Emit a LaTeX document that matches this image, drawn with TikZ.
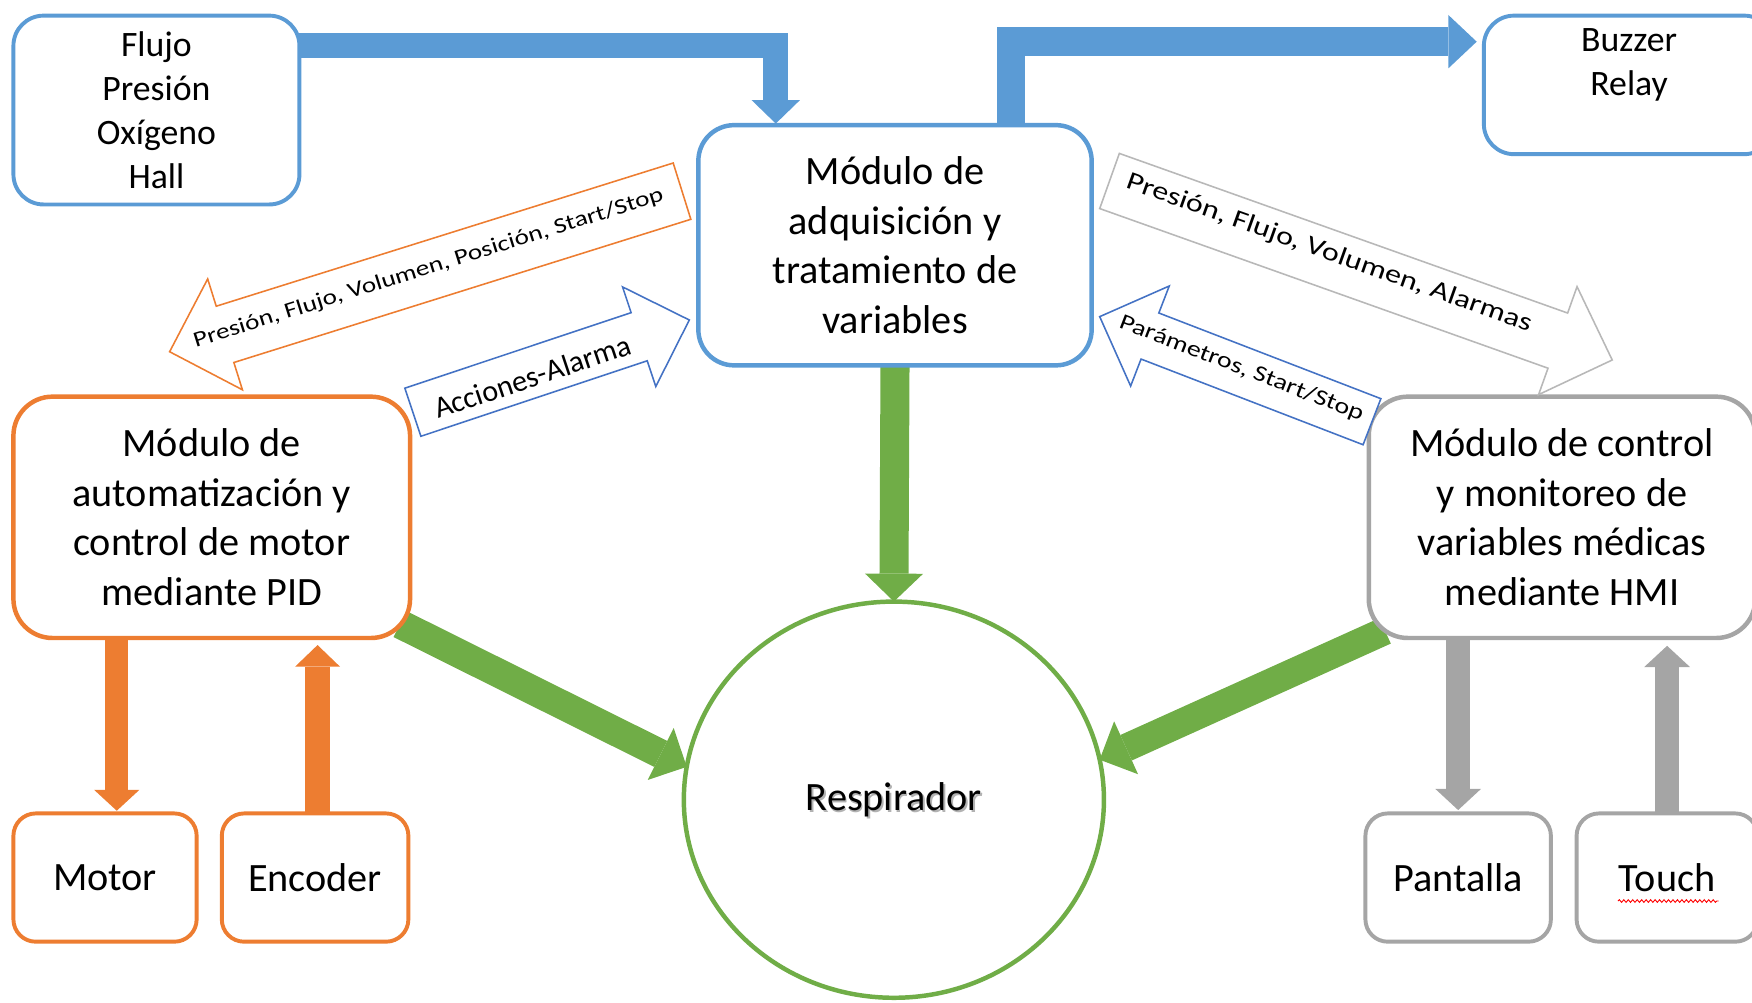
\documentclass[tikz,border=0pt]{standalone}
\usepackage{fontspec}
\setmainfont{Carlito}
\newfontfamily\widefont[FakeStretch=1.25]{Carlito}
\usetikzlibrary{arrows.meta,calc,backgrounds,decorations.pathmorphing,shapes.geometric}

\definecolor{accblue}{HTML}{5B9BD5}
\definecolor{accorange}{HTML}{ED7D31}
\definecolor{accgray}{HTML}{A5A5A5}
\definecolor{accgreen}{HTML}{70AD47}
\definecolor{linkblue}{HTML}{4472C4}
\definecolor{linkgray}{HTML}{B8B8B8}

\tikzset{
  modbox/.style={draw=#1, line width=4pt, fill=white, rounded corners=32pt,
    inner sep=0pt, outer sep=0pt, align=center,
    minimum height=216pt, font=\fontsize{36}{44.3}\selectfont},
  smallbox/.style={draw=#1, line width=3.5pt, fill=white, rounded corners=20pt,
    inner sep=0pt, outer sep=0pt, minimum height=114.8pt,
    font=\fontsize{36}{44}\selectfont},
  infobox/.style={draw=accblue, line width=3.5pt, fill=white, rounded corners=27pt,
    inner sep=0pt, outer sep=0pt},
  infotext/.style={align=center, inner sep=0pt, font=\fontsize{32}{39.3}\selectfont},
  flow/.style={line width=#1, line cap=butt, line join=miter},
  hollow/.style={draw=#1, line width=1.4pt, fill=white, line join=miter},
  tag/.style={inner sep=0pt, font=\widefont\fontsize{#1}{#1}\selectfont},
}

% hollow block arrow: style, tip, direction towards tail, length, shaft half width,
% head half width, head length
\newcommand{\hollowarrow}[7]{%
  \draw[hollow=#1, shift={#2}, rotate=#3]
    (0,0) -- (#7,#6) -- (#7,#5) -- (#4,#5) -- (#4,-#5) -- (#7,-#5) -- (#7,-#6) -- cycle;}

\begin{document}
\begin{tikzpicture}[x=1pt, y=1pt]
\useasboundingbox (0,0) rectangle (1568,897);
\clip (0,0) rectangle (1568,897);

% ---- blocks ----
\node[infobox, minimum width=256pt, minimum height=169pt] (flujo) at (140,798.5) {};
\node[infotext] (flujotxt) at (flujo.center) {Flujo\\Presión\\Oxígeno\\Hall};

\node[modbox=accblue, minimum width=352pt, minimum height=215pt] (adq) at (801,677.5)
  {Módulo de\\adquisición y\\tratamiento de\\variables};

\node[infobox, minimum width=260pt, minimum height=124pt] (buzzer) at (1458,821) {};
\node[infotext] (buzzertxt) at (1458,839) {Buzzer\\Relay};

\node[modbox=accorange, minimum width=355pt, rounded corners=35pt] (autobox) at (189.5,434)
  {Módulo de\\automatización y\\control de motor\\mediante PID};
\node[smallbox=accorange, minimum width=164pt] (motor) at (94,111.6) {Motor};
\node[smallbox=accorange, minimum width=167pt] (encoder) at (282,111.6) {Encoder};

\node[modbox=accgray, minimum width=346pt, rounded corners=35pt] (hmi) at (1398,434)
  {Módulo de control\\y monitoreo de\\variables médicas\\mediante HMI};
\node[smallbox=accgray, minimum width=166pt] (pantalla) at (1305,111.6) {Pantalla};
\node[smallbox=accgray, minimum width=162pt] (touch) at (1492,111.6) {Touch};
\draw[red, line width=0.8pt, decorate, decoration={snake, amplitude=1.2pt, segment length=4pt}]
  ([shift={(-44,-21)}]touch.center) -- ([shift={(46,-21)}]touch.center);

\node[draw=accgreen, line width=4pt, fill=white, ellipse, inner sep=0pt, outer sep=0pt,
  minimum width=376pt, minimum height=354.6pt] (resp) at (800,181.3) {};
\node[text=black!30, font=\fontsize{36}{44}\selectfont] (respshadow) at ([shift={(1.6,-1.6)}]resp.center) {Respirador};
\node[font=\fontsize{36}{44}\selectfont] (resptxt) at (resp.center) {Respirador};

% ---- flows between blocks ----
\coordinate (bandL) at (0,856);
\coordinate (bandR) at (0,859.7);
\begin{pgfonlayer}{background}
  \draw[accblue, flow=22.4pt, shorten >=1.4pt,
        -{Triangle[length=21pt, width=43.3pt, line width=0pt]}]
    (flujo.east |- bandL) -| ([xshift=-106.7pt]adq.north);
  \draw[accblue, flow=25.5pt, shorten >=6.4pt,
        -{Triangle[length=25.4pt, width=47.8pt, line width=0pt]}]
    ([xshift=104pt]adq.north) |- (buzzer.west |- bandR);

  \draw[accgreen, flow=26pt, -{Triangle[length=25pt, width=52pt, line width=0pt]}]
    (adq.south) -- (resp.north);
  \draw[accgreen, flow=26pt, -{Triangle[length=26pt, width=52pt, line width=0pt]}]
    ($(autobox.south east)+(-9,12.5)$) -- (resp.171);
  \draw[accgreen, flow=25pt, -{Triangle[length=26pt, width=52pt, line width=0pt]}]
    ($(hmi.south west)+(14.6,6.4)$) -- (resp.11);

  \draw[accorange, flow=21pt, shorten >=2.4pt,
        -{Triangle[length=18.6pt, width=40.3pt, line width=0pt]}]
    ([xshift=-85pt]autobox.south) -- ([xshift=10.5pt]motor.north);
  \draw[accorange, flow=22.4pt, shorten >=6.3pt,
        -{Triangle[length=19.4pt, width=40.3pt, line width=0pt]}]
    ([xshift=2.2pt]encoder.north) -- ([xshift=94.7pt]autobox.south);

  \draw[accgray, flow=22pt, shorten >=3pt,
        -{Triangle[length=19pt, width=41pt, line width=0pt]}]
    ([xshift=-93pt]hmi.south) -- (pantalla.north);
  \draw[accgray, flow=22pt, shorten >=7pt,
        -{Triangle[length=19pt, width=41pt, line width=0pt]}]
    (touch.north) -- ([xshift=94pt]hmi.south);
\end{pgfonlayer}

% ---- labelled signal arrows ----
\hollowarrow{accorange}{(151.8,582.2)}{17.4}{480.6}{26.4}{52}{52}
\node[tag=19.5, rotate=17.4] (lblpid) at (383.6,656.8)
  {Presión, Flujo, Volumen, Posición, Start/Stop};

\hollowarrow{linkblue}{(616.9,610.6)}{198.45}{260.8}{22.7}{47}{47.3}
\node[inner sep=0pt, font=\fontsize{27}{27}\selectfont, rotate=18.5] (lblacc) at (476.3,560)
  {Acciones-Alarma};

\hollowarrow{linkgray}{(1442.9,574.8)}{160.4}{477.6}{26.2}{51.3}{51.7}
\node[tag=23, rotate=-19.6] (lblhmi) at (1189.4,670.3)
  {Presión, Flujo, Volumen, Alarmas};

\hollowarrow{linkblue}{(984.2,613.6)}{-21.1}{261.2}{22.1}{48}{48.2}
\node[tag=20, rotate=-21.1] (lblpar) at (1111,567.3)
  {Parámetros, Start/Stop};
\end{tikzpicture}
\end{document}
